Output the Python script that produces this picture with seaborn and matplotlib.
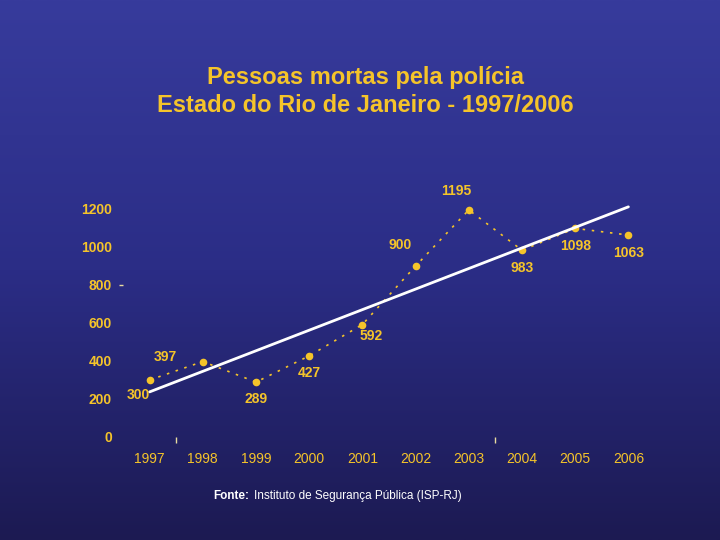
import numpy as np
import pandas as pd
import matplotlib
matplotlib.use("Agg")
import matplotlib.pyplot as plt
from matplotlib.colors import LinearSegmentedColormap
import seaborn as sns

# ---- data ----
years = [1997, 1998, 1999, 2000, 2001, 2002, 2003, 2004, 2005, 2006]
deaths = [300, 397, 289, 427, 592, 900, 1195, 983, 1098, 1063]
y_ticks = [0, 200, 400, 600, 800, 1000, 1200]
# label offsets in points (dx, dy) for each data label
label_offsets = [(-8, -11), (-27, 3), (0, -12), (0, -12), (6, -8),
                 (-11, 15), (-9, 14), (0, -13), (0, -13), (0, -13)]

df = pd.DataFrame({"idx": range(len(years)), "year": years, "deaths": deaths})

sns.set_theme(style="white")
plt.rcParams['font.family'] = ['Liberation Sans', 'DejaVu Sans']

yellow = "#f5c42a"
fig = plt.figure(figsize=(7.2, 5.4), dpi=100)

# ---- background gradient ----
bg = fig.add_axes([0, 0, 1, 1], zorder=0)
cmap = LinearSegmentedColormap.from_list("bg", ["#1c1a52", "#2b2d86", "#373b9c"])
grad = np.linspace(0, 1, 256).reshape(-1, 1)
bg.imshow(grad, aspect="auto", cmap=cmap, origin="lower", extent=[0, 1, 0, 1])
bg.set_axis_off()

# ---- main axes ----
ax = fig.add_axes([123 / 720, (540 - 437) / 540, 532 / 720, 237.5 / 540], zorder=1)
ax.patch.set_alpha(0)

sns.lineplot(data=df, x="idx", y="deaths", ax=ax, color=yellow, linestyle=(0, (1.5, 4)),
             linewidth=1.2, marker="o", markersize=5.5, markeredgewidth=0)
sns.regplot(data=df, x="idx", y="deaths", ax=ax, scatter=False, ci=None, truncate=True,
            line_kws={"color": "white", "linewidth": 2})

for i, (v, (dx, dy)) in enumerate(zip(deaths, label_offsets)):
    ax.annotate(str(v), (i, v), xytext=(dx, dy), textcoords="offset points",
                ha="center", va="center", color=yellow, fontsize=10,
                fontweight="bold", annotation_clip=False)

ax.set_xlim(-0.5, len(years) - 0.5)
ax.set_ylim(0, 1250)
ax.set_xticks(range(len(years)))
ax.set_xticklabels([str(y) for y in years])
ax.set_xticks([0.5, 6.5], minor=True)
ax.set_yticks(y_ticks)
ax.set_yticklabels([str(t) for t in y_ticks], fontweight="bold")
ax.tick_params(axis="y", length=3, width=1, color="#e8dca0", pad=5, labelsize=10,
               labelcolor=yellow, left=True)
for t, v in zip(ax.yaxis.get_major_ticks(), y_ticks):
    t.tick1line.set_visible(v == 800)
ax.tick_params(axis="x", which="major", length=0, pad=11, labelsize=10, labelcolor=yellow)
ax.tick_params(axis="x", which="minor", length=4, width=1, color="#e8dca0", bottom=True)
ax.set_xlabel("")
ax.set_ylabel("")
sns.despine(ax=ax, left=True, bottom=True)

# ---- titles ----
fig.text(0.507, 1 - 78 / 540, "Pessoas mortas pela polícia", ha="center", va="center",
         color=yellow, fontsize=17, fontweight="bold")
fig.text(0.507, 1 - 106 / 540, "Estado do Rio de Janeiro - 1997/2006", ha="center",
         va="center", color=yellow, fontsize=17, fontweight="bold")

# ---- source ----
fig.text(213 / 720, 1 - 496 / 540, "Fonte:", ha="left", va="center", color="white",
         fontsize=8.5, fontweight="bold")
fig.text(254 / 720, 1 - 496 / 540, "Instituto de Segurança Pública (ISP-RJ)", ha="left",
         va="center", color="white", fontsize=8.5)

fig.savefig("out.png", dpi=100)
